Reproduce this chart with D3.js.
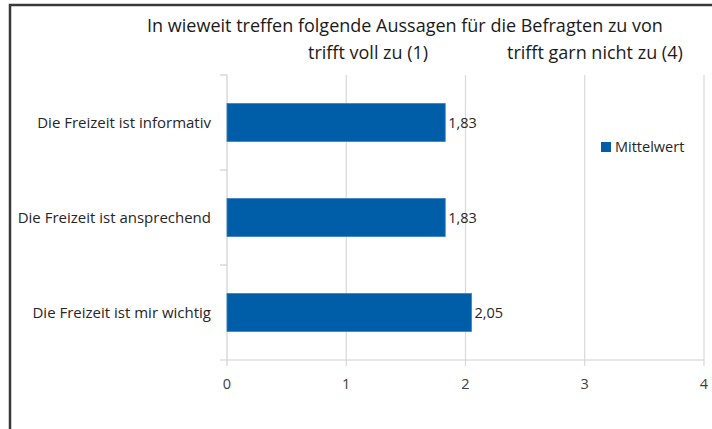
<!DOCTYPE html>
<html>
<head>
<meta charset="utf-8">
<script src="https://cdn.jsdelivr.net/npm/d3@7"></script>
<style>
  body { margin: 0; background: #fff; }
  text { font-family: 'Open Sans', 'Noto Sans', sans-serif; }
</style>
</head>
<body>
<div id="chart"></div>
<script>
let categories = ['Die Freizeit ist informativ', 'Die Freizeit ist ansprechend', 'Die Freizeit ist mir wichtig']
let values = [1.83, 1.83, 2.05]
let ticks = [0, 1, 2, 3, 4]
let seriesName = 'Mittelwert'
let titleLine1 = 'In wieweit treffen folgende Aussagen für die Befragten zu von'
let titleLeft = 'trifft voll zu (1)'
let titleRight = 'trifft garn nicht zu (4)'

let width = 712
let height = 429
let margin = { top: 75, left: 227, right: 8, bottom: 69 }

let svg = d3.select('#chart')
  .append('svg')
  .attr('width', width)
  .attr('height', height)

// outer frame (top and left edge only visible)
svg.append('path')
  .attr('d', `M10,${height} L10,5 L${width},5`)
  .attr('fill', 'none')
  .attr('stroke', '#3a3a3a')
  .attr('stroke-width', 2.5)

let x = d3.scaleLinear()
  .domain([0, 4])
  .range([margin.left, width - margin.right])

let y = d3.scaleBand()
  .domain(categories)
  .range([margin.top, height - margin.bottom])
  .paddingInner(0.6)
  .paddingOuter(0.3)

let bandTop = d3.scaleBand()
  .domain(categories)
  .range([margin.top, height - margin.bottom])

// gridlines
svg.append('g')
  .selectAll('line')
  .data(ticks.slice(1))
  .enter()
  .append('line')
  .attr('x1', d => x(d))
  .attr('x2', d => x(d))
  .attr('y1', margin.top)
  .attr('y2', height - margin.bottom + 6)
  .attr('stroke', '#d9d9d9')
  .attr('stroke-width', 1.2)

// y axis line and category ticks
svg.append('line')
  .attr('x1', x(0)).attr('x2', x(0))
  .attr('y1', margin.top).attr('y2', height - margin.bottom + 6)
  .attr('stroke', '#d0d0d0')
  .attr('stroke-width', 1.2)

svg.append('g')
  .selectAll('line')
  .data(categories)
  .enter()
  .append('line')
  .attr('x1', x(0) - 7)
  .attr('x2', x(0))
  .attr('y1', d => bandTop(d))
  .attr('y2', d => bandTop(d))
  .attr('stroke', '#d0d0d0')
  .attr('stroke-width', 1.2)

// x axis line
svg.append('line')
  .attr('x1', x(0) - 7).attr('x2', x(4))
  .attr('y1', height - margin.bottom).attr('y2', height - margin.bottom)
  .attr('stroke', '#d0d0d0')
  .attr('stroke-width', 1.2)

svg.append('g')
  .selectAll('text')
  .data(ticks)
  .enter()
  .append('text')
  .attr('x', d => x(d))
  .attr('y', height - margin.bottom + 29)
  .attr('text-anchor', 'middle')
  .attr('font-size', 14.5)
  .attr('fill', '#404040')
  .text(d => d)

// bars
svg.append('g')
  .selectAll('rect')
  .data(values)
  .enter()
  .append('rect')
  .attr('x', x(0))
  .attr('y', (d, i) => y(categories[i]))
  .attr('width', d => x(d) - x(0))
  .attr('height', y.bandwidth())
  .attr('fill', '#005ea8')
  .attr('stroke', '#3c7fc0')
  .attr('stroke-width', 0.8)

// value labels
svg.append('g')
  .selectAll('text')
  .data(values)
  .enter()
  .append('text')
  .attr('x', d => x(d) + 3)
  .attr('y', (d, i) => y(categories[i]) + y.bandwidth() / 2)
  .attr('dy', '0.35em')
  .attr('font-size', 14.5)
  .attr('fill', '#262626')
  .text(d => d3.format('.2f')(d).replace('.', ','))

// category labels
svg.append('g')
  .selectAll('text')
  .data(categories)
  .enter()
  .append('text')
  .attr('x', x(0) - 16)
  .attr('y', d => y(d) + y.bandwidth() / 2)
  .attr('dy', '0.35em')
  .attr('text-anchor', 'end')
  .attr('font-size', 15)
  .attr('fill', '#262626')
  .text(d => d)

// title
svg.append('text')
  .attr('x', 405)
  .attr('y', 32)
  .attr('text-anchor', 'middle')
  .attr('font-size', 18)
  .attr('fill', '#1a1a1a')
  .text(titleLine1)

svg.append('text')
  .attr('x', 308)
  .attr('y', 59)
  .attr('font-size', 18)
  .attr('fill', '#1a1a1a')
  .text(titleLeft)

svg.append('text')
  .attr('x', 507)
  .attr('y', 59)
  .attr('font-size', 18)
  .attr('fill', '#1a1a1a')
  .text(titleRight)

// legend
let legend = svg.append('g')
  .attr('transform', 'translate(601,147)')

legend.append('rect')
  .attr('x', 0)
  .attr('y', -5)
  .attr('width', 10)
  .attr('height', 10)
  .attr('fill', '#005ea8')

legend.append('text')
  .attr('x', 14)
  .attr('y', 0)
  .attr('dy', '0.35em')
  .attr('font-size', 14.5)
  .attr('fill', '#262626')
  .text(seriesName)
</script>
</body>
</html>
